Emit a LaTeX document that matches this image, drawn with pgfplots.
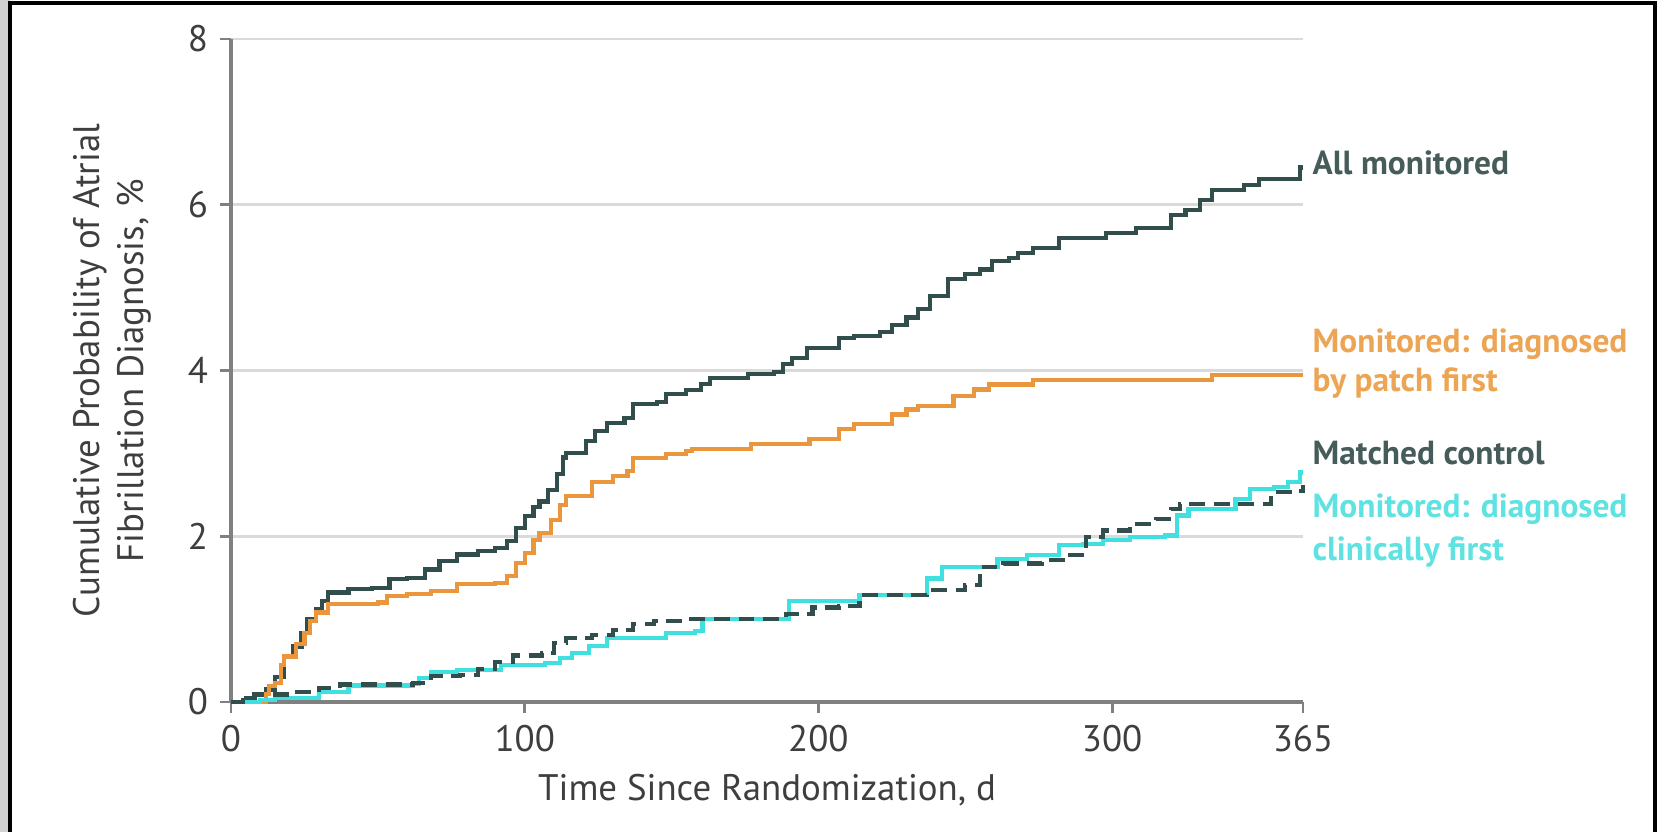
\documentclass[border=0pt]{standalone}
\usepackage{fontspec}
\setmainfont{PT Sans}
\usepackage{pgfplots}
\pgfplotsset{compat=1.18}
\definecolor{axisgray}{RGB}{128,128,128}
\definecolor{gridgray}{RGB}{218,218,218}
\definecolor{textgray}{RGB}{62,62,62}
\definecolor{darkline}{RGB}{50,78,76}
\definecolor{orangeline}{RGB}{233,150,60}
\definecolor{cyanline}{RGB}{64,224,224}
\definecolor{darklabel}{RGB}{70,92,90}
\definecolor{orangelabel}{RGB}{236,165,85}
\definecolor{cyanlabel}{RGB}{95,226,226}
\begin{document}
\begin{tikzpicture}
\path[use as bounding box] (0,0) rectangle (16.63,8.32);
\fill[gray!35] (0,0) rectangle (0.10,8.32);
\draw[black, line width=1.2pt] (0.10,0) -- (0.10,8.29) -- (16.55,8.29) -- (16.55,0);
\begin{axis}[
  at={(2.31cm,1.30cm)}, anchor=south west,
  scale only axis, width=10.72cm, height=6.63cm,
  xmin=0, xmax=365, ymin=0, ymax=8,
  axis x line=bottom, axis y line=left,
  axis line style={-, draw=axisgray, line width=1pt},
  xtick={0,100,200,300,365}, ytick={0,2,4,6,8},
  tick align=outside, major tick length=3pt,
  tick style={draw=axisgray, line width=0.8pt},
  ymajorgrids, grid style={draw=gridgray, line width=0.8pt},
  /pgf/number format/assume math mode=true,
  ticklabel style={font=\fontsize{10.5}{12}\selectfont, text=textgray},
  xlabel={Time Since Randomization, d},
  ylabel={Cumulative Probability of Atrial\\Fibrillation Diagnosis, \%},
  xlabel style={font=\fontsize{10.5}{12}\selectfont, text=textgray, at={(axis description cs:0.5,-0.148)}, anchor=base},
  ylabel style={font=\fontsize{10.5}{12.5}\selectfont, text=textgray, align=center, at={(axis description cs:-0.111,0.5)}, anchor=center},
  clip=false,
]
% All monitored
\addplot[const plot, darkline, line width=1.2pt] coordinates {
(0,0) (5,0.05) (8,0.09) (12,0.15) (15,0.3) (18,0.55) (21,0.67) (24,0.83) (26,1.0) (29,1.12) (31,1.22) (33,1.32)
(40,1.36) (48,1.38) (54,1.48) (60,1.5) (66,1.6) (71,1.7) (77,1.78) (84,1.82) (90,1.86) (94,1.94) (97,2.1)
(100,2.24) (103,2.35) (105,2.42) (108,2.56) (111,2.75) (113,2.95) (114,3.0) (121,3.15) (124,3.27) (128,3.37)
(134,3.43) (137,3.6) (145,3.62) (148,3.72) (155,3.76) (160,3.84) (163,3.91) (176,3.96) (185,3.98) (188,4.08)
(191,4.15) (196,4.27) (207,4.39) (212,4.42) (221,4.46) (225,4.55) (230,4.64) (234,4.74) (238,4.9) (244,5.1)
(250,5.16) (255,5.22) (259,5.32) (265,5.36) (268,5.42) (273,5.48) (282,5.6) (298,5.66) (308,5.72) (320,5.88)
(325,5.94) (330,6.06) (334,6.18) (345,6.24) (350,6.31) (364,6.45) (365,6.45)};
% Monitored: diagnosed by patch first
\addplot[const plot, orangeline, line width=1.2pt] coordinates {
(0,0) (8,0) (12,0.1) (13,0.19) (15,0.23) (17,0.45) (18,0.55) (22,0.7) (25,0.83) (27,0.98) (29,1.08) (33,1.18)
(50,1.2) (53,1.28) (60,1.3) (68,1.34) (77,1.42) (90,1.44) (94,1.52) (97,1.68) (100,1.8) (103,1.95) (105,2.04)
(109,2.2) (112,2.38) (114,2.49) (123,2.65) (130,2.73) (135,2.79) (137,2.94) (148,2.99) (155,3.03) (157,3.05)
(177,3.11) (197,3.17) (207,3.29) (212,3.35) (225,3.47) (230,3.53) (234,3.57) (246,3.69) (253,3.77) (258,3.83)
(273,3.89) (334,3.95) (365,3.95)};
% Monitored: diagnosed clinically first
\addplot[const plot, cyanline, line width=1.2pt] coordinates {
(0,0) (10,0.02) (15,0.05) (30,0.12) (40,0.2) (62,0.22) (64,0.29) (68,0.36) (77,0.39) (92,0.45) (107,0.47)
(112,0.53) (116,0.59) (122,0.68) (128,0.77) (146,0.77) (148,0.83) (158,0.86) (160.5,1.0) (190,1.22) (214,1.29)
(237,1.49) (242,1.63) (261,1.73) (271,1.77) (282,1.89) (290,1.91) (297,1.95) (306,1.99) (318,2.01) (322,2.25)
(326,2.33) (342,2.45) (347,2.57) (355,2.59) (360,2.65) (364,2.77) (365,2.77)};
% Matched control
\addplot[const plot, darkline, line width=1.2pt, dash pattern=on 4.5pt off 2.5pt] coordinates {
(0,0) (4,0.05) (8,0.09) (20,0.12) (30,0.17) (37,0.21) (62,0.23) (68,0.31) (78,0.33) (84,0.4) (90,0.48)
(96,0.56) (106,0.59) (110,0.71) (114,0.77) (123,0.81) (130,0.87) (137,0.94) (144,0.98) (155,1.0) (189,1.06)
(198,1.14) (207,1.16) (214,1.29) (237,1.35) (250,1.41) (255,1.63) (263,1.67) (276,1.71) (284,1.77) (291,1.99)
(297,2.07) (306,2.15) (315,2.21) (320,2.33) (323,2.39) (354,2.53) (362,2.55) (365,2.62)};
\end{axis}
\tikzset{lab/.style={anchor=base west, inner sep=0pt, font=\bfseries\fontsize{9.5}{11}\selectfont}}
\node[lab, text=darklabel] at (13.12,6.57) {All monitored};
\node[lab, text=orangelabel] at (13.12,4.79) {Monitored: diagnosed};
\node[lab, text=orangelabel] at (13.12,4.40) {by patch first};
\node[lab, text=darklabel] at (13.12,3.67) {Matched control};
\node[lab, text=cyanlabel] at (13.12,3.14) {Monitored: diagnosed};
\node[lab, text=cyanlabel] at (13.12,2.71) {clinically first};
\end{tikzpicture}
\end{document}
